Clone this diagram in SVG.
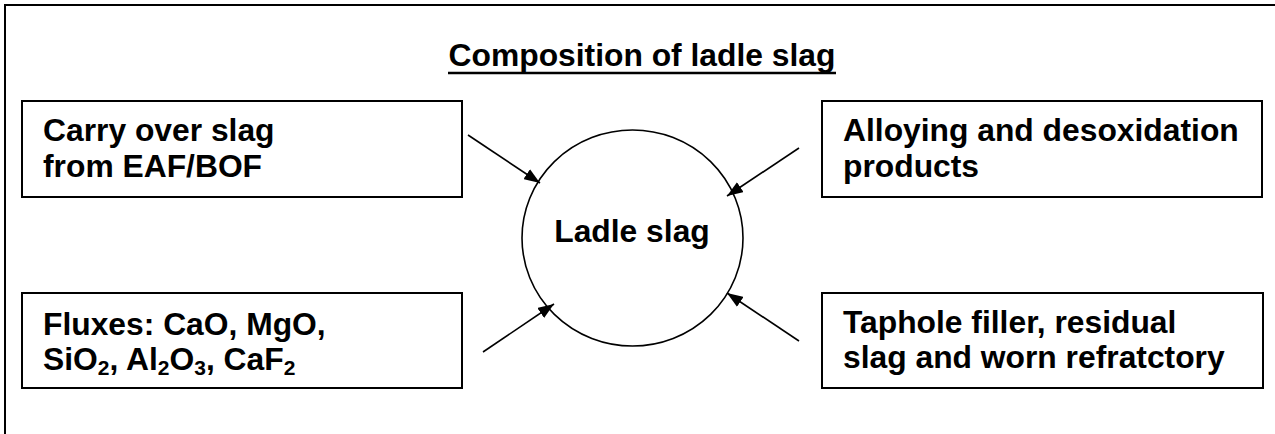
<svg xmlns="http://www.w3.org/2000/svg" width="1275" height="434" viewBox="0 0 1275 434">
<defs>
<style>
text{font-family:"Liberation Sans",Arial,sans-serif;font-weight:bold;font-size:31.8px;fill:#000}
.box{fill:#fff;stroke:#000;stroke-width:2}
.con{stroke:#000;stroke-width:1.6;fill:none}
.sub{font-size:21px}
</style>
<marker id="ah" viewBox="0 0 10 10" refX="10" refY="5" markerWidth="16" markerHeight="12" markerUnits="userSpaceOnUse" orient="auto" preserveAspectRatio="none">
<path d="M0,0 L10,5 L0,10 z" fill="#000"/>
</marker>
</defs>
<rect x="0" y="0" width="1275" height="434" fill="#fff"/>
<rect x="5" y="5" width="1300" height="500" fill="none" stroke="#000" stroke-width="2"/>
<g id="title">
<text x="642" y="66" text-anchor="middle" font-size="32.9">Composition of ladle slag</text>
<line x1="448" y1="73" x2="836" y2="73" stroke="#000" stroke-width="2.5"/>
</g>
<g id="carry-over">
<rect class="box" x="22" y="101" width="440" height="96"/>
<text x="43" y="141">Carry over slag</text>
<text x="43" y="177">from EAF/BOF</text>
</g>
<g id="alloying">
<rect class="box" x="822" y="101" width="440" height="96"/>
<text x="843" y="141">Alloying and desoxidation</text>
<text x="843" y="177">products</text>
</g>
<g id="fluxes">
<rect class="box" x="22" y="293" width="440" height="95"/>
<text x="43" y="335">Fluxes: CaO, MgO,</text>
<text x="43" y="370">SiO<tspan class="sub" dy="5">2</tspan><tspan dy="-5">, Al</tspan><tspan class="sub" dy="5">2</tspan><tspan dy="-5">O</tspan><tspan class="sub" dy="5">3</tspan><tspan dy="-5">, CaF</tspan><tspan class="sub" dy="5">2</tspan></text>
</g>
<g id="taphole">
<rect class="box" x="822" y="293" width="441" height="95"/>
<text x="843" y="333">Taphole filler, residual</text>
<text x="843" y="368">slag and worn refratctory</text>
</g>
<g id="ladle-slag">
<ellipse cx="632.5" cy="238" rx="110.5" ry="108" fill="#fff" stroke="#000" stroke-width="1.6"/>
<text x="632" y="242" text-anchor="middle">Ladle slag</text>
</g>
<g id="connectors">
<line class="con" x1="468" y1="135" x2="540" y2="183" marker-end="url(#ah)"/>
<line class="con" x1="799" y1="148" x2="727" y2="196" marker-end="url(#ah)"/>
<line class="con" x1="483" y1="352" x2="554" y2="304" marker-end="url(#ah)"/>
<line class="con" x1="799" y1="341" x2="727" y2="293" marker-end="url(#ah)"/>
</g>
</svg>
